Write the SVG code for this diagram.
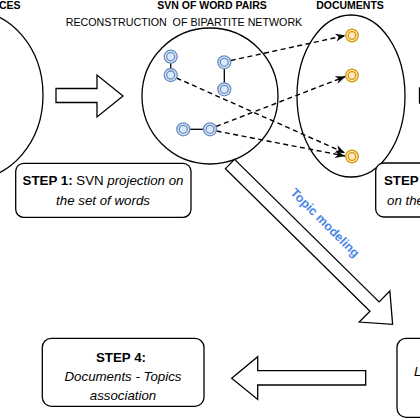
<svg xmlns="http://www.w3.org/2000/svg" width="420" height="420" viewBox="0 0 420 420">
<style>
.t{font-family:"Liberation Sans",Arial,sans-serif;fill:#000}
.title{font-size:10.5px;font-weight:bold}
.sub{font-size:10.7px;white-space:pre}
.st{font-size:13.3px}
.b{font-weight:bold}
.i{font-style:italic}
.shape{fill:#fff;stroke:#000;stroke-width:1.3}
.ring{fill:none;stroke:#000;stroke-width:1.3}
.box{fill:#fff;stroke:#000;stroke-width:1.3}
.word{fill:#dae8fc;stroke:#6c8ebf;stroke-width:1.3}
.doc{fill:#ffe6cc;stroke:#d79b00;stroke-width:1.3}
.edge{stroke:#000;stroke-width:1.3;fill:none}
.dash{stroke:#000;stroke-width:1.4;fill:none;stroke-dasharray:5 3.5}
</style>
<defs>
<marker id="ah" viewBox="0 0 10 10" refX="10" refY="5" markerWidth="10" markerHeight="10" markerUnits="userSpaceOnUse" orient="auto">
<path d="M0,1 L10,5 L0,9 L3,5 Z" fill="#000"/>
</marker>
</defs>

<g id="titles">
<text class="t title" x="-1" y="9">CES</text>
<text class="t title" x="212" y="9" text-anchor="middle">SVN OF WORD PAIRS</text>
<text class="t title" x="350" y="9" text-anchor="middle">DOCUMENTS</text>
<text class="t sub" x="184" y="26" text-anchor="middle">RECONSTRUCTION  OF BIPARTITE NETWORK</text>
</g>

<g id="sources-ellipse"><ellipse class="ring" cx="-30" cy="95" rx="73" ry="85"/></g>
<g id="svn-circle"><circle class="ring" cx="210" cy="96" r="68"/></g>
<g id="documents-ellipse"><ellipse class="ring" cx="351" cy="96" rx="54" ry="81"/></g>

<g id="arrow-step1"><polygon class="shape" points="56,88.5 97,88.5 97,75 123,96 97,117 97,102.5 56,102.5"/></g>
<g id="arrow-step2"><polygon class="shape" points="419.5,88 445,88 445,103 419.5,103"/></g>
<g id="arrow-topic"><polygon class="shape" transform="translate(230,164) rotate(44.6)" points="0,-6.5 203,-6.5 203,-21.8 228.4,0 203,21.8 203,6.5 0,6.5"/></g>
<g id="arrow-step4"><polygon class="shape" points="365.7,370.7 257.7,370.7 257.7,356.7 231.7,378.3 257.7,399.5 257.7,385 365.7,385"/></g>

<g id="connectors">
<line class="edge" x1="170.7" y1="56.7" x2="170.7" y2="75"/>
<line class="edge" x1="224.3" y1="62.3" x2="224.3" y2="89.3"/>
<line class="edge" x1="183.3" y1="129.3" x2="210" y2="129.3"/>
<line class="dash" x1="230.8" y1="60.5" x2="345.5" y2="35.5" marker-end="url(#ah)"/>
<line class="dash" x1="216" y1="126.5" x2="345.5" y2="76.5" marker-end="url(#ah)"/>
<line class="dash" x1="176.5" y1="78" x2="345" y2="153" marker-end="url(#ah)"/>
<line class="dash" x1="216.5" y1="131" x2="345" y2="156" marker-end="url(#ah)"/>
</g>

<g id="w1"><circle class="word" cx="170.7" cy="56.7" r="6.5"/><circle class="word" cx="170.7" cy="56.7" r="4"/></g>
<g id="w2"><circle class="word" cx="170.7" cy="75" r="6.5"/><circle class="word" cx="170.7" cy="75" r="4"/></g>
<g id="w3"><circle class="word" cx="224.3" cy="62.3" r="6.5"/><circle class="word" cx="224.3" cy="62.3" r="4"/></g>
<g id="w4"><circle class="word" cx="224.3" cy="89.3" r="6.5"/><circle class="word" cx="224.3" cy="89.3" r="4"/></g>
<g id="w5"><circle class="word" cx="183.3" cy="129.3" r="6.5"/><circle class="word" cx="183.3" cy="129.3" r="4"/></g>
<g id="w6"><circle class="word" cx="210" cy="129.3" r="6.5"/><circle class="word" cx="210" cy="129.3" r="4"/></g>

<g id="d1"><circle class="doc" cx="352" cy="35.5" r="6.3"/><circle class="doc" cx="352" cy="35.5" r="3.8"/></g>
<g id="d2"><circle class="doc" cx="352" cy="75.5" r="6.3"/><circle class="doc" cx="352" cy="75.5" r="3.8"/></g>
<g id="d3"><circle class="doc" cx="352" cy="156.5" r="6.3"/><circle class="doc" cx="352" cy="156.5" r="3.8"/></g>

<g id="step1">
<rect class="box" x="15.7" y="163.3" width="175.3" height="54" rx="8"/>
<text class="t st" x="103" y="185" text-anchor="middle"><tspan class="b">STEP 1:</tspan> SVN <tspan class="i">projection on</tspan></text>
<text class="t st i" x="103" y="205" text-anchor="middle">the set of words</text>
</g>

<g id="step2">
<rect class="box" x="375.7" y="163" width="70" height="54" rx="8"/>
<text class="t st b" x="384" y="185">STEP</text>
<text class="t st i" x="387" y="205">on the</text>
</g>

<g id="step3">
<rect class="box" x="397" y="338.3" width="60" height="79" rx="9"/>
<text class="t st i" x="414" y="376">L</text>
</g>

<g id="step4">
<rect class="box" x="42.3" y="338.3" width="161.7" height="68" rx="9"/>
<text class="t st b" x="121" y="362" text-anchor="middle">STEP 4:</text>
<text class="t st i" x="123" y="381" text-anchor="middle">Documents - Topics</text>
<text class="t st i" x="123" y="400" text-anchor="middle">association</text>
</g>

<g id="topic-label">
<text class="t" x="325" y="223" text-anchor="middle" dominant-baseline="central" transform="rotate(45 325 223)" style="font-size:12.5px;font-weight:bold;fill:#4a86e8">Topic modeling</text>
</g>
</svg>
